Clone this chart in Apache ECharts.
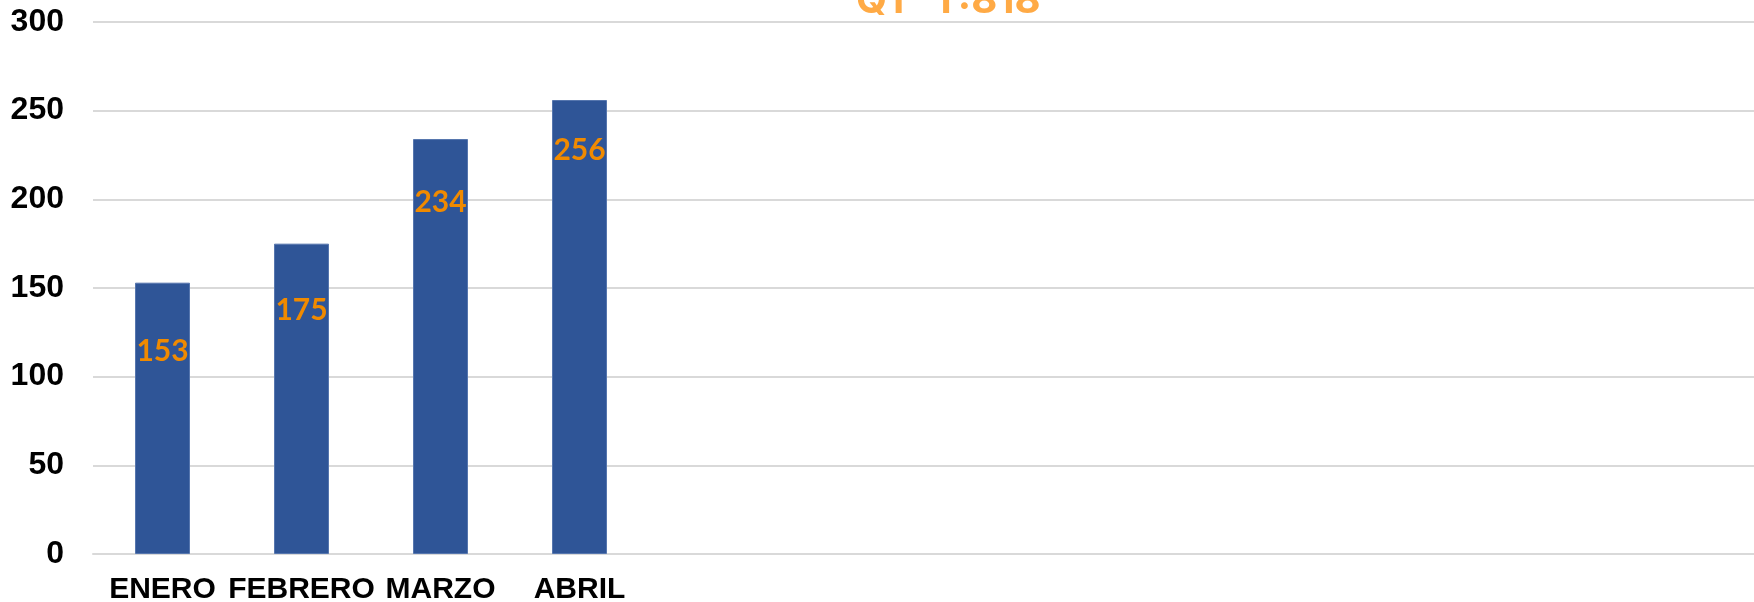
<!DOCTYPE html>
<html>
<head>
<meta charset="utf-8">
<title>Q1</title>
<script src="https://cdn.jsdelivr.net/npm/echarts@6/dist/echarts.min.js"></script>
<style>
	html, body { margin: 0; padding: 0; background: #fff; }
	#ventas-chart { width: 1754px; height: 602px; }
</style>
</head>
<body>
<div id="ventas-chart"></div>
<script>
// datos del grafico
var meses = ['ENERO', 'FEBRERO', 'MARZO', 'ABRIL', '', '', '', '', '', '', '', ''];
var ventas = [153, 175, 234, 256];
var ejeY = [0, 50, 100, 150, 200, 250, 300];
var titulo = 'Q1   T:818';

// desplazamiento vertical de cada etiqueta dentro de la barra
var etiquetaDy = [54, 52, 48, 35];

var ventasChart = echarts.init(document.getElementById('ventas-chart'));

ventasChart.setOption({
	animation: false,
	title: {
		text: titulo,
		left: 851,
		top: -24,
		textStyle: {
			fontFamily: 'Inter',
			fontWeight: 'bold',
			fontSize: 40,
			color: '#FFAA45'
		}
	},
	grid: {
		left: 93,
		right: -7,
		top: 22,
		bottom: 48,
		outerBoundsMode: 'none'
	},
	xAxis: {
		type: 'category',
		data: meses,
		axisLine: { lineStyle: { color: '#D9D9D9', width: 2 } },
		axisTick: { show: false },
		axisLabel: {
			interval: 0,
			margin: 21,
			color: '#000',
			fontFamily: 'Liberation Sans',
			fontWeight: 'bold',
			fontSize: 30
		}
	},
	yAxis: {
		type: 'value',
		min: ejeY[0],
		max: ejeY[ejeY.length - 1],
		interval: ejeY[1] - ejeY[0],
		axisLine: { show: false },
		axisTick: { show: false },
		splitLine: { lineStyle: { color: '#D9D9D9', width: 2 } },
		axisLabel: {
			margin: 29,
			color: '#000',
			fontFamily: 'Liberation Sans',
			fontWeight: 'bold',
			fontSize: 32
		}
	},
	series: [
		{
			name: 'Ventas',
			type: 'bar',
			barWidth: 55,
			data: ventas.map(function(v, i) {
				return { value: v, label: { offset: [0, etiquetaDy[i]] } };
			}),
			itemStyle: {
				color: '#2F5597',
				borderColor: '#5676AE',
				borderWidth: 1
			},
			label: {
				show: true,
				position: 'insideTop',
				distance: 0,
				color: '#F08A00',
				fontFamily: 'Lato',
				fontWeight: 'bold',
				fontSize: 30
			}
		}
	]
});
</script>
</body>
</html>
